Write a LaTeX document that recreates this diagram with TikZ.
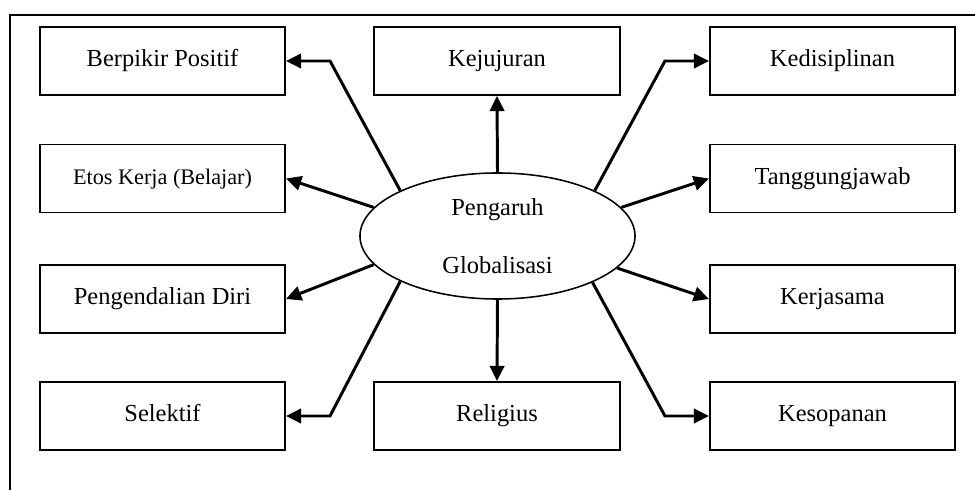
\documentclass[tikz,border=0pt]{standalone}
\usepackage{fontspec}
\setmainfont{Liberation Serif}
\usepackage{tikz}
\usetikzlibrary{shapes.geometric, positioning, arrows.meta}

\begin{document}
\begin{tikzpicture}[x=0.025cm, y=-0.025cm,
          nilai/.style={rectangle, draw, line width=1.4pt,
                        minimum width=6.125cm, minimum height=1.7cm,
                        text height=12pt, text depth=3.5pt,
                        inner sep=0pt, font=\fontsize{17.4}{20}\selectfont},
          pusat/.style={ellipse, draw, line width=1.1pt, inner sep=0pt,
                        minimum width=6.875cm, minimum height=3.15cm,
                        align=center, font=\fontsize{17.4}{41}\selectfont},
          arr/.style={-{Triangle[length=0.38cm, width=0.36cm]}, line width=2.1pt}
        ]
        \useasboundingbox (0,0) rectangle (975,490);
        % frame (only top and left show)
        \draw[line width=1.4pt] (10,490) -- (10,15) -- (975,15);

        \node[pusat] (glob) at (497.5,236) {Pengaruh\\Globalisasi};

        % left column
        \node[nilai] (bp) at (162.5,61)  {Berpikir Positif};
        \node[nilai, font=\fontsize{15.8}{18}\selectfont] (ek) at (162.5,178.5) {Etos Kerja (Belajar)};
        \node[nilai] (pd) at (162.5,299) {Pengendalian Diri};
        \node[nilai] (sl) at (162.5,416) {Selektif};
        % middle column
        \node[nilai] (kj) at (497,61)  {Kejujuran};
        \node[nilai] (rl) at (497,416) {Religius};
        % right column
        \node[nilai] (kd) at (832.5,61)    {Kedisiplinan};
        \node[nilai] (tj) at (832.5,178.5) {Tanggungjawab};
        \node[nilai] (ks) at (832.5,299)   {Kerjasama};
        \node[nilai] (sp) at (832.5,416)   {Kesopanan};

        % arrows to the left
        \draw[arr] (glob.155) -- ([xshift=1.1cm]bp.east) -- (bp.east);
        \draw[arr] (glob.167) -- (ek.east);
        \draw[arr] (glob.193.5) -- (pd.east);
        \draw[arr] (glob.205.5) -- ([xshift=1.1cm]sl.east) -- (sl.east);

        % up and down
        \draw[arr] (glob.north) -- (kj.south);
        \draw[arr] (glob.south) -- (rl.north);

        % arrows to the right
        \draw[arr] (glob.25.3) -- ([xshift=-1.1cm]kd.west) -- (kd.west);
        \draw[arr] (glob.13.3) -- (tj.west);
        \draw[arr] (glob.345.8) -- (ks.west);
        \draw[arr] (glob.334.5) -- ([xshift=-1.1cm]sp.west) -- (sp.west);
      \end{tikzpicture}
\end{document}
